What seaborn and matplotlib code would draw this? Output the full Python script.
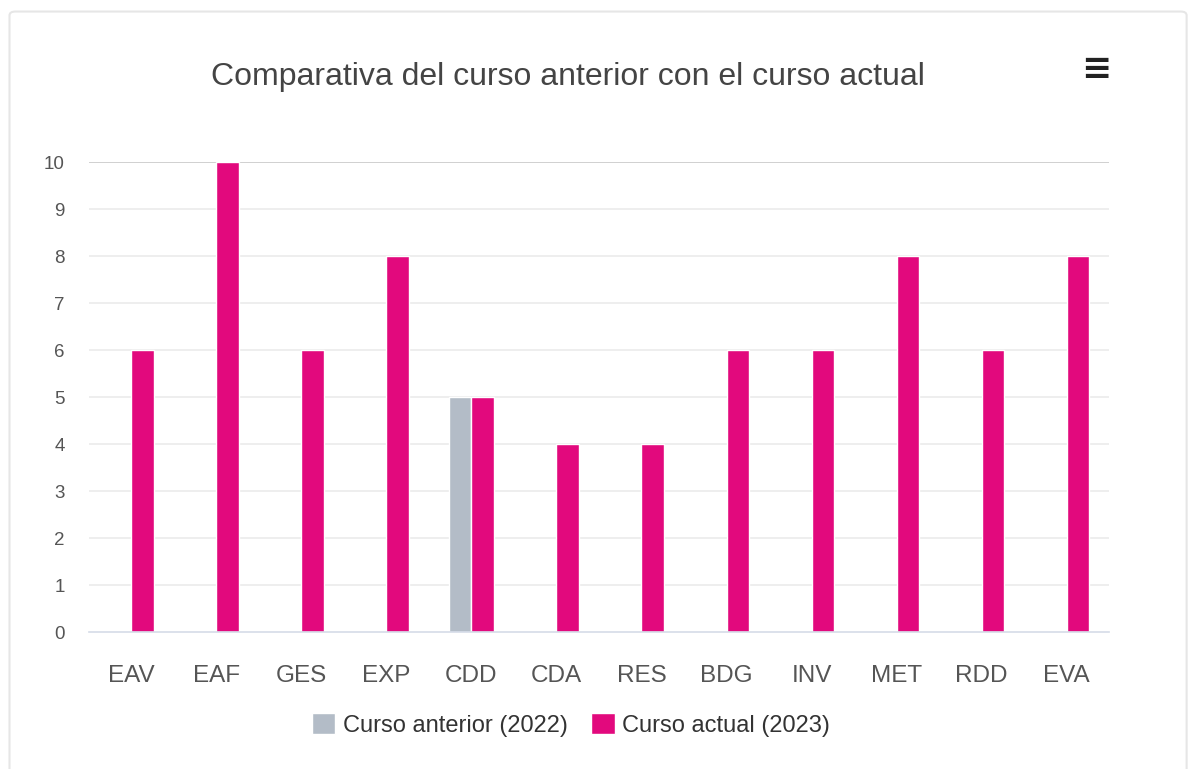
import matplotlib.pyplot as plt
import seaborn as sns
import pandas as pd
from matplotlib.patches import FancyBboxPatch

categories = ["EAV", "EAF", "GES", "EXP", "CDD", "CDA", "RES", "BDG", "INV", "MET", "RDD", "EVA"]
series_names = ["Curso anterior (2022)", "Curso actual (2023)"]
curso_anterior = [0, 0, 0, 0, 5, 0, 0, 0, 0, 0, 0, 0]
curso_actual = [6, 10, 6, 8, 5, 4, 4, 6, 6, 8, 6, 8]
y_ticks = list(range(0, 11))

sns.set_theme(style="white")
plt.rcParams['font.family'] = ['Liberation Sans', 'DejaVu Sans']

df = pd.DataFrame({
    "categoria": categories * 2,
    "serie": [series_names[0]] * len(categories) + [series_names[1]] * len(categories),
    "valor": curso_anterior + curso_actual,
})

palette = {series_names[0]: "#B3BCC7", series_names[1]: "#E2097D"}

fig = plt.figure(figsize=(11.89, 7.69), dpi=100)
fig.patch.set_facecolor("white")

# card border like the dashboard widget
card = FancyBboxPatch((0.008, -0.02), 0.99, 1.005, boxstyle="round,pad=0,rounding_size=0.005",
                      transform=fig.transFigure, facecolor="white", edgecolor="#E6E6E6",
                      linewidth=1.5, zorder=-10)
fig.patches.append(card)

ax = fig.add_axes([0.0745, 0.178, 0.8585, 0.611])
ax.set_facecolor("none")
ax.set_zorder(5)

sns.barplot(data=df, x="categoria", y="valor", hue="serie", order=categories,
            hue_order=series_names, palette=palette, width=0.53, saturation=1,
            ax=ax, legend=True)

ax.set_ylim(0, 10)
ax.set_yticks(y_ticks)
ax.set_xlim(-0.5, len(categories) - 0.5)
for y in y_ticks[1:]:
    color = "#C8C8C8" if y == 10 else "#EBEBEB"
    ax.axhline(y, color=color, linewidth=1.2, zorder=0)

for side in ["top", "right", "left"]:
    ax.spines[side].set_visible(False)
ax.spines["bottom"].set_color("#D5DCE8")
ax.spines["bottom"].set_linewidth(1.2)

ax.tick_params(axis="y", length=0, labelsize=13.5, labelcolor="#555555", pad=17)
ax.tick_params(axis="x", length=0, labelsize=17.5, labelcolor="#555555", pad=24)
ax.set_xlabel("")
ax.set_ylabel("")

handles, labels = ax.get_legend_handles_labels()
ax.get_legend().remove()
fig.legend(handles, labels, loc="center", bbox_to_anchor=(0.48, 0.057), ncol=2,
           frameon=False, fontsize=17, handlelength=1.0, handleheight=1.0,
           handletextpad=0.3, columnspacing=1.0, labelcolor="#333333")

fig.text(0.478, 0.9, "Comparativa del curso anterior con el curso actual",
         ha="center", va="center", fontsize=23, color="#444444")
fig.text(0.922, 0.91, "≡", ha="center", va="center", fontsize=26, color="#222222",
         fontweight="bold", family=["DejaVu Sans"])

fig.savefig("out.png", dpi=100)
